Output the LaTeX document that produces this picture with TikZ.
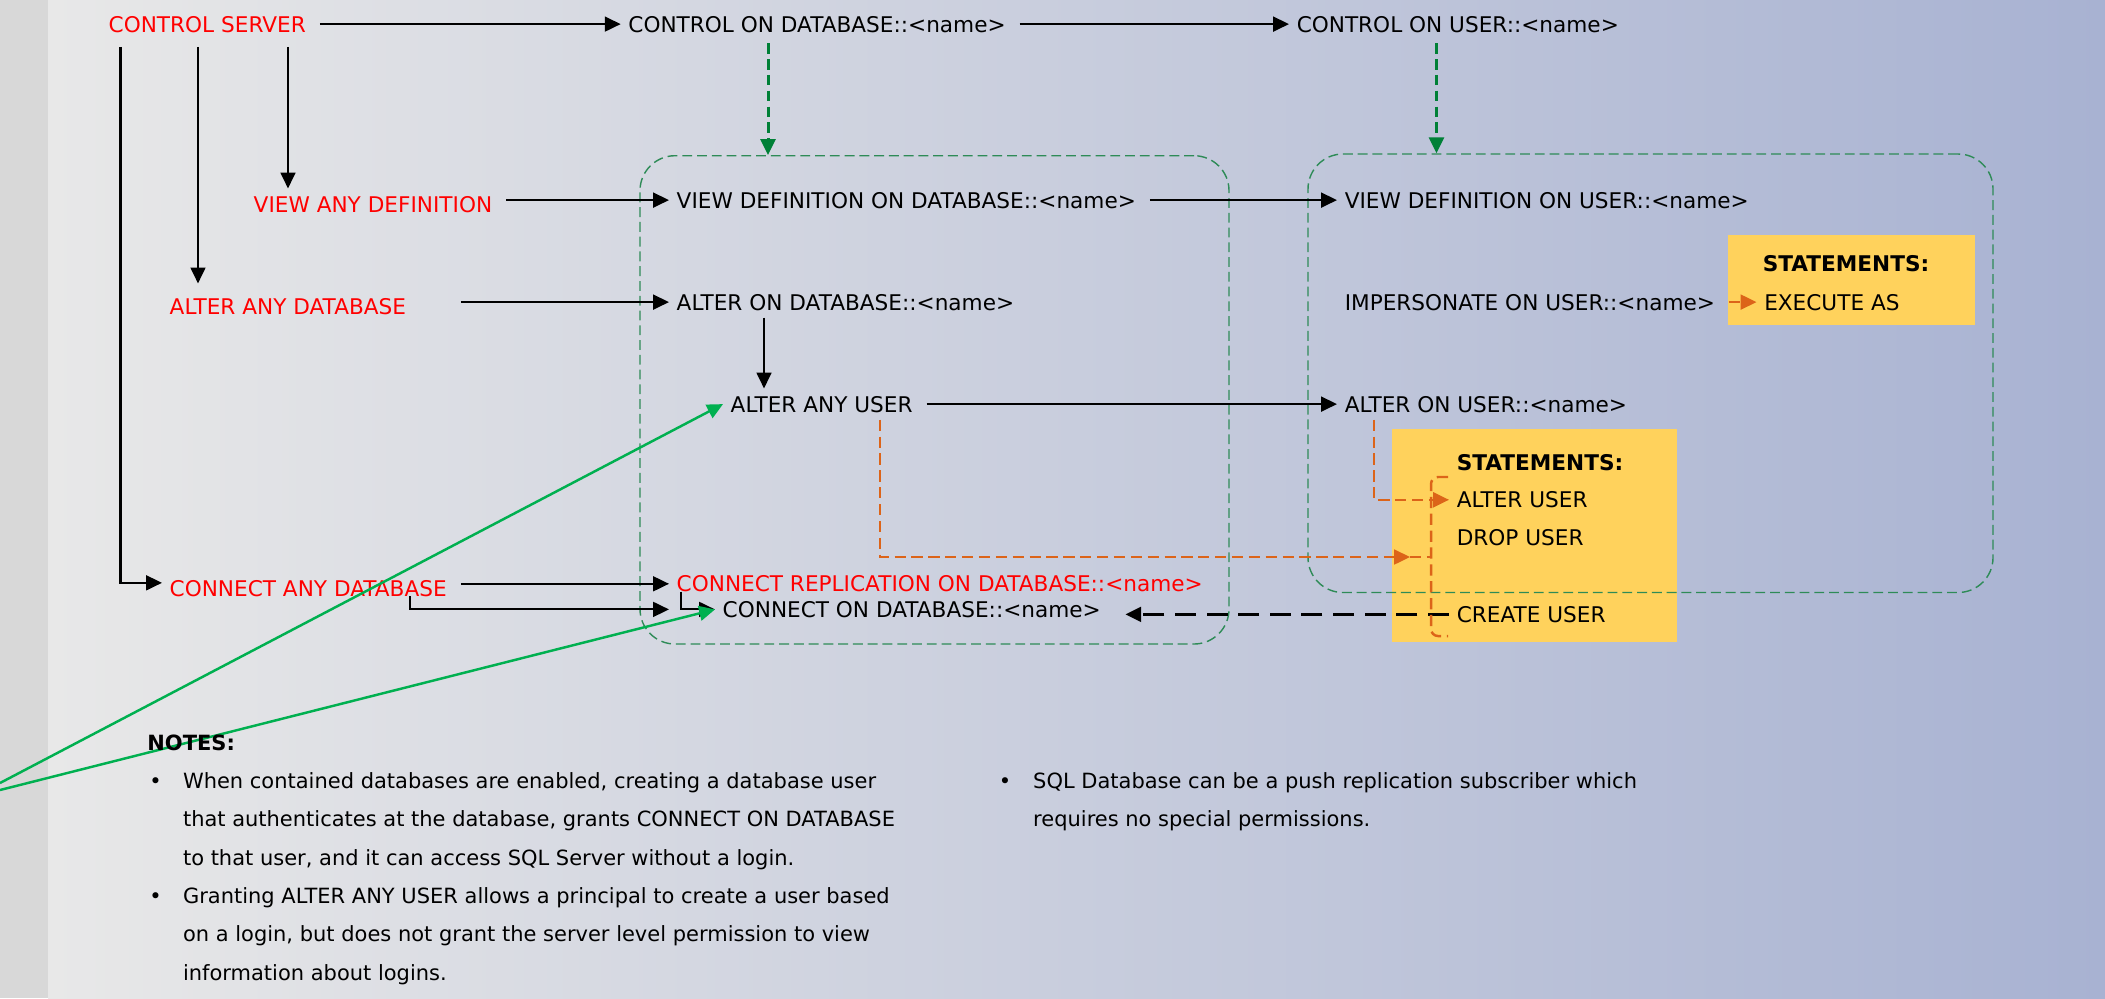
\documentclass[tikz,border=0pt]{standalone}
\usepackage{fontspec}
\setmainfont{DejaVu Sans}
\usetikzlibrary{arrows.meta}

\definecolor{srvred}{RGB}{255,0,0}
\definecolor{boxgreen}{RGB}{46,139,87}
\definecolor{dashgreen}{RGB}{0,128,55}
\definecolor{linegreen}{RGB}{0,176,80}
\definecolor{stmtorange}{RGB}{220,100,25}
\definecolor{stmtyellow}{RGB}{255,210,92}
\definecolor{bgstrip}{RGB}{216,216,216}
\definecolor{bgleft}{RGB}{232,232,232}
\definecolor{bgmid}{RGB}{188,193,217}
\definecolor{bgright}{RGB}{168,178,210}

\tikzset{
    lbl/.style={anchor=base west, inner xsep=2pt, inner ysep=2pt, text height=4.5pt, text depth=0pt, font=\fontsize{6.15}{7.4}\selectfont},
    srv/.style={lbl, text=srvred},
    hdr/.style={lbl, font=\fontsize{6.15}{7.4}\selectfont\bfseries},
    note/.style={lbl, font=\fontsize{5.97}{7.2}\selectfont},
    notehdr/.style={lbl, font=\fontsize{5.97}{7.2}\selectfont\bfseries},
    arr/.style={-{Triangle[length=4.5pt,width=4.2pt]}, line width=0.6pt},
    link/.style={arr, shorten <=1.8pt},
    garr/.style={arr, draw=dashgreen, line width=0.85pt, dash pattern=on 3pt off 1.5pt, shorten <=1pt},
    glink/.style={arr, draw=linegreen, line width=0.7pt},
    oarr/.style={arr, draw=stmtorange, line width=0.7pt, dash pattern=on 3.2pt off 1.6pt},
    odash/.style={draw=stmtorange, line width=0.7pt, dash pattern=on 3.2pt off 1.6pt},
    darr/.style={arr, line width=0.85pt, dash pattern=on 6pt off 3pt},
    grpbox/.style={draw=boxgreen, line width=0.4pt, dash pattern=on 2.8pt off 1.4pt, rounded corners=0.35cm, inner sep=0pt},
    stmtbox/.style={fill=stmtyellow, inner sep=0pt}
}

\begin{document}
\begin{tikzpicture}
    \useasboundingbox (0,0) rectangle (21.05,-9.98);

    % Background
    \fill[bgstrip] (0,0) rectangle (0.48,-9.98);
    \shade[left color=bgleft, middle color=bgmid, right color=bgright] (0.48,0) rectangle (21.05,-9.98);

    % Statement boxes and scopes
    \node[stmtbox, minimum width=2.47cm, minimum height=0.90cm] (sb1) at (18.515,-2.80) {};
    \node[stmtbox, minimum width=2.85cm, minimum height=2.13cm] (sb2) at (15.345,-5.355) {};
    \node[grpbox, minimum width=5.89cm, minimum height=4.883cm] (dbbox) at (9.345,-3.9985) {};
    \node[grpbox, minimum width=6.85cm, minimum height=4.385cm] (userbox) at (16.505,-3.7325) {};

    % Server level permissions
    \node[srv] (cs) at (1.01,-0.32) {CONTROL SERVER};
    \node[srv] (vad) at (2.46,-2.12) {VIEW ANY DEFINITION};
    \node[srv] (aad) at (1.62,-3.14) {ALTER ANY DATABASE};
    \node[srv] (cad) at (1.62,-5.96) {CONNECT ANY DATABASE};

    % Database level permissions
    \node[lbl] (cdb) at (6.207,-0.32) {CONTROL ON DATABASE::<name>};
    \node[lbl] (vdb) at (6.69,-2.08) {VIEW DEFINITION ON DATABASE::<name>};
    \node[lbl] (adb) at (6.69,-3.10) {ALTER ON DATABASE::<name>};
    \node[lbl] (aau) at (7.23,-4.12) {ALTER ANY USER};
    \node[srv] (crd) at (6.69,-5.917) {CONNECT REPLICATION ON DATABASE::<name>};
    \node[lbl] (cod) at (7.15,-6.173) {CONNECT ON DATABASE::<name>};

    % User level permissions
    \node[lbl] (cu) at (12.89,-0.32) {CONTROL ON USER::<name>};
    \node[lbl] (vu) at (13.37,-2.08) {VIEW DEFINITION ON USER::<name>};
    \node[lbl] (imp) at (13.37,-3.10) {IMPERSONATE ON USER::<name>};
    \node[lbl] (au) at (13.37,-4.12) {ALTER ON USER::<name>};

    % Statements
    \node[hdr] (st1) at (17.55,-2.717) {STATEMENTS:};
    \node[lbl] (exe) at (17.565,-3.10) {EXECUTE AS};
    \node[hdr] (st2) at (14.49,-4.70) {STATEMENTS:};
    \node[lbl] (alu) at (14.49,-5.077) {ALTER USER};
    \node[lbl] (dru) at (14.49,-5.457) {DROP USER};
    \node[lbl] (cru) at (14.49,-6.223) {CREATE USER};

    % Branch points
    \coordinate (v0) at (1.205,0);
    \coordinate (v1) at (1.98,0);
    \coordinate (v2) at (2.88,0);
    \coordinate (v3) at (7.64,0);
    \coordinate (g1) at (7.68,0);
    \coordinate (g2) at (14.365,0);
    \coordinate (o1) at (8.80,0);
    \coordinate (o2) at (13.74,0);
    \coordinate (e1) at (4.10,0);
    \coordinate (e2) at (6.81,0);
    \coordinate (notch) at (14.10,-5.57);
    \coordinate (gl1) at (0,-7.83);
    \coordinate (gl2) at (0,-7.90);

    % Black arrows
    \draw[link] (cs) -- (cdb);
    \draw[link] (cdb) -- (cu);
    \draw[arr] ([yshift=-2pt]cs.south -| v2) -- (vad.north -| v2);
    \draw[arr] ([yshift=-2pt]cs.south -| v1) -- ([yshift=2pt]aad.north -| v1);
    \draw[arr] ([yshift=-2pt]cs.south -| v0) |- ([yshift=1.5pt]cad.west);
    \draw[link] (vad.east |- vdb.west) -- (vdb.west);
    \draw[link] (vdb) -- (vu);
    \draw[link, shorten <=13.4pt] (aad.east |- adb.west) -- (adb.west);
    \draw[arr] (adb.south -| v3) -- (aau.north -| v3);
    \draw[link] (aau) -- (au);
    \draw[link] (cad.east |- crd.west) -- (crd.west);
    \draw[arr] (cad.base -| e1) |- (cod.west -| crd.west);
    \draw[arr] (crd.base -| e2) |- (cod.west);
    \draw[darr, shorten >=4.8pt] (cru) -- (cru -| cod.east);

    % Green arrows
    \draw[garr] (cdb.south -| g1) -- (dbbox.north -| g1);
    \draw[garr] (cu.south -| g2) -- (userbox.north -| g2);
    \draw[glink] (gl1) -- (aau.west);
    \draw[glink] (gl2) -- (cod.west);

    % Orange arrows
    \draw[oarr, shorten <=1.8pt] (imp) -- (exe);
    \draw[oarr] (au.south -| o2) |- (alu.west);
    \draw[oarr] (aau.south -| o1) |- (notch);
    \draw[odash, rounded corners=2pt] (14.48,-4.77) -- (14.31,-4.77) -- (14.31,-6.36) -- (14.48,-6.36);
    \draw[odash] (notch) -- (14.31,-5.57);

    % Notes
    \node[notehdr] (notes) at (1.397,-7.507) {NOTES:};
    \node[note] (b1) at (1.416,-7.883) {•};
    \node[note] (n1) at (1.753,-7.883) {When contained databases are enabled, creating a database user};
    \node[note] (n2) at (1.753,-8.267) {that authenticates at the database, grants CONNECT ON DATABASE};
    \node[note] (n3) at (1.753,-8.65) {to that user, and it can access SQL Server without a login.};
    \node[note] (b2) at (1.416,-9.033) {•};
    \node[note] (n4) at (1.753,-9.033) {Granting ALTER ANY USER allows a principal to create a user based};
    \node[note] (n5) at (1.753,-9.417) {on a login, but does not grant the server level permission to view};
    \node[note] (n6) at (1.753,-9.80) {information about logins.};
    \node[note] (b3) at (9.91,-7.883) {•};
    \node[note] (n7) at (10.255,-7.883) {SQL Database can be a push replication subscriber which};
    \node[note] (n8) at (10.255,-8.267) {requires no special permissions.};
\end{tikzpicture}
\end{document}
